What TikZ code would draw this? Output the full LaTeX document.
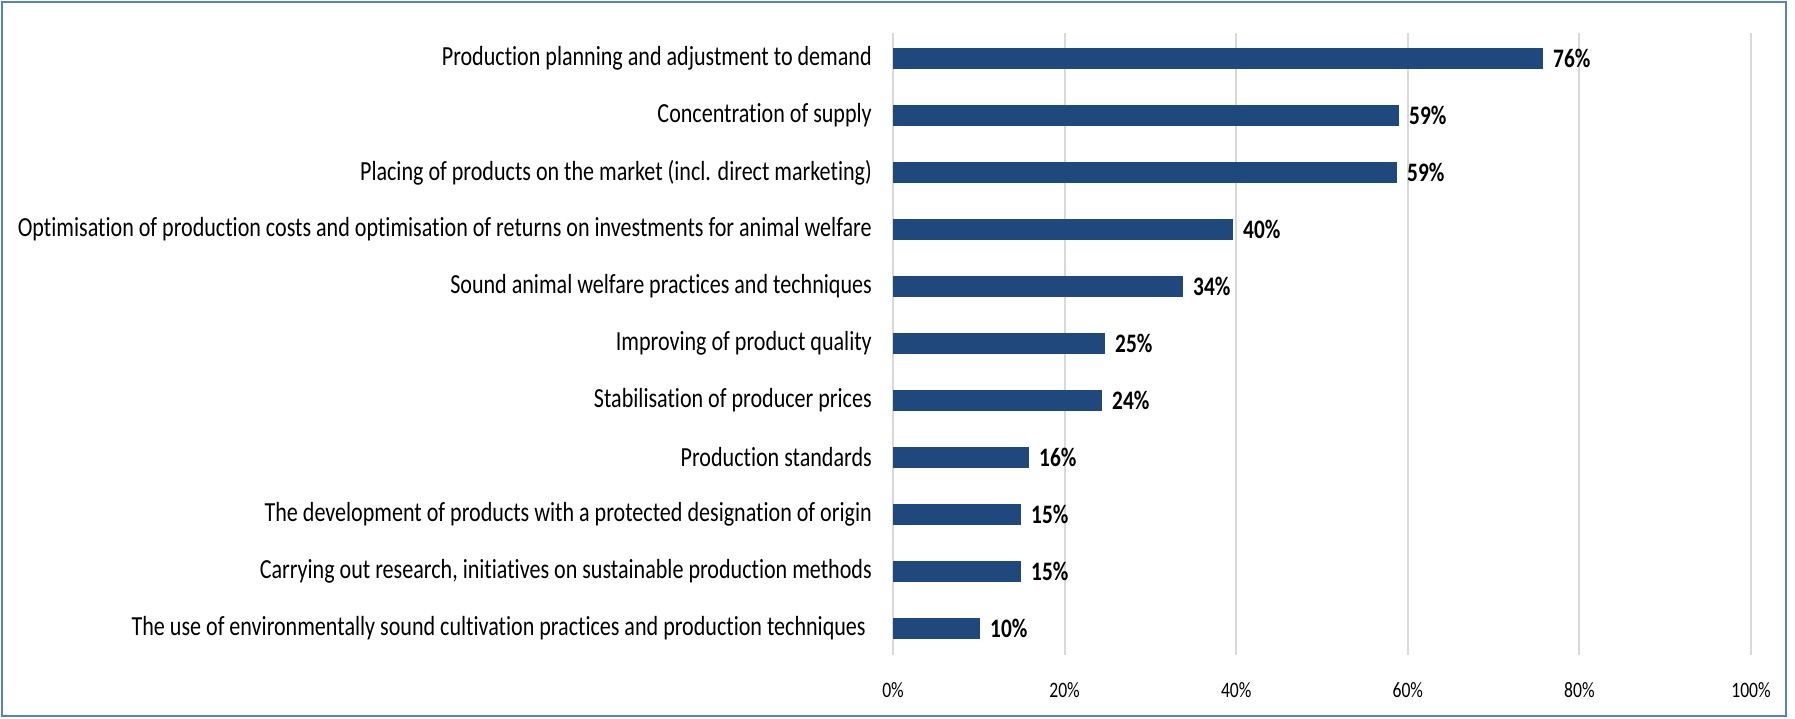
\documentclass[tikz,border=0pt]{standalone}
\usepackage{fontspec}
\setmainfont{Carlito}[Ligatures={NoCommon,NoContextual,NoRequired},Contextuals=NoAlternate]
\definecolor{barblue}{RGB}{31,73,125}
\definecolor{frameblue}{RGB}{84,130,196}
\definecolor{gridgray}{RGB}{217,217,217}
\tikzset{every picture/.style={line width=0.75pt}}
\tikzset{
  catlabel/.style={anchor=east,inner sep=0.75pt,xscale=0.8,font=\fontsize{20.7}{24}\selectfont},
  vallabel/.style={anchor=west,inner sep=0.75pt,xscale=0.8,font=\fontsize{20}{24}\selectfont\bfseries},
  ticklabel/.style={anchor=center,inner sep=0.75pt,xscale=0.8,font=\fontsize{16.5}{19}\selectfont},
  gridline/.style={color=gridgray,line width=1.5},
  bar/.style={fill=barblue}
}
\begin{document}
\begin{tikzpicture}[x=0.75pt,y=0.75pt,yscale=-1,xscale=1]
\useasboundingbox (0,0) rectangle (1795,718);

%Shape: Rectangle [frame]
\draw [color=frameblue,line width=2] (2,2) rectangle (1786,716);

%Straight Lines [grid]
\draw [gridline] (893,33) -- (893,655);
\draw [gridline] (1064.6,33) -- (1064.6,655);
\draw [gridline] (1236.2,33) -- (1236.2,655);
\draw [gridline] (1407.8,33) -- (1407.8,655);
\draw [gridline] (1579.4,33) -- (1579.4,655);
\draw [gridline] (1751,33) -- (1751,655);

%Shape: Rectangle [bars]
\fill [bar] (893,48) rectangle (1543,69);
\fill [bar] (893,105) rectangle (1399,126);
\fill [bar] (893,162) rectangle (1397,183);
\fill [bar] (893,219) rectangle (1233,240);
\fill [bar] (893,276) rectangle (1183,297);
\fill [bar] (893,333) rectangle (1105,354);
\fill [bar] (893,390) rectangle (1102,411);
\fill [bar] (893,447) rectangle (1029,468);
\fill [bar] (893,504) rectangle (1021,525);
\fill [bar] (893,561) rectangle (1021,582);
\fill [bar] (893,618) rectangle (980,639);

% Text Node
\draw (873,58.5) node [catlabel] (cat1) {Production planning and adjustment to demand};
% Text Node
\draw (873,115.5) node [catlabel] (cat2) {Concentration of supply};
% Text Node
\draw (873,172.5) node [catlabel] (cat3) {Placing of products on the market (incl. direct marketing)};
% Text Node
\draw (873,229.5) node [catlabel] (cat4) {Optimisation of production costs and optimisation of returns on investments for animal welfare};
% Text Node
\draw (873,286.5) node [catlabel] (cat5) {Sound animal welfare practices and techniques};
% Text Node
\draw (873,343.5) node [catlabel] (cat6) {Improving of product quality};
% Text Node
\draw (873,400.5) node [catlabel] (cat7) {Stabilisation of producer prices};
% Text Node
\draw (873,457.5) node [catlabel] (cat8) {Production standards};
% Text Node
\draw (873,514.5) node [catlabel] (cat9) {The development of products with a protected designation of origin};
% Text Node
\draw (873,571.5) node [catlabel] (cat10) {Carrying out research, initiatives on sustainable production methods};
% Text Node
\draw (867,628.5) node [catlabel] (cat11) {The use of environmentally sound cultivation practices and production techniques};

% Text Node
\draw (1552,58.5) node [vallabel] (val1) {76\%};
% Text Node
\draw (1408,115.5) node [vallabel] (val2) {59\%};
% Text Node
\draw (1406,172.5) node [vallabel] (val3) {59\%};
% Text Node
\draw (1242,229.5) node [vallabel] (val4) {40\%};
% Text Node
\draw (1192,286.5) node [vallabel] (val5) {34\%};
% Text Node
\draw (1114,343.5) node [vallabel] (val6) {25\%};
% Text Node
\draw (1111,400.5) node [vallabel] (val7) {24\%};
% Text Node
\draw (1038,457.5) node [vallabel] (val8) {16\%};
% Text Node
\draw (1030,514.5) node [vallabel] (val9) {15\%};
% Text Node
\draw (1030,571.5) node [vallabel] (val10) {15\%};
% Text Node
\draw (989,628.5) node [vallabel] (val11) {10\%};

% Text Node
\draw (893,690) node [ticklabel] (tick0) {0\%};
% Text Node
\draw (1064.6,690) node [ticklabel] (tick20) {20\%};
% Text Node
\draw (1236.2,690) node [ticklabel] (tick40) {40\%};
% Text Node
\draw (1407.8,690) node [ticklabel] (tick60) {60\%};
% Text Node
\draw (1579.4,690) node [ticklabel] (tick80) {80\%};
% Text Node
\draw (1751,690) node [ticklabel] (tick100) {100\%};

\end{tikzpicture}
\end{document}
